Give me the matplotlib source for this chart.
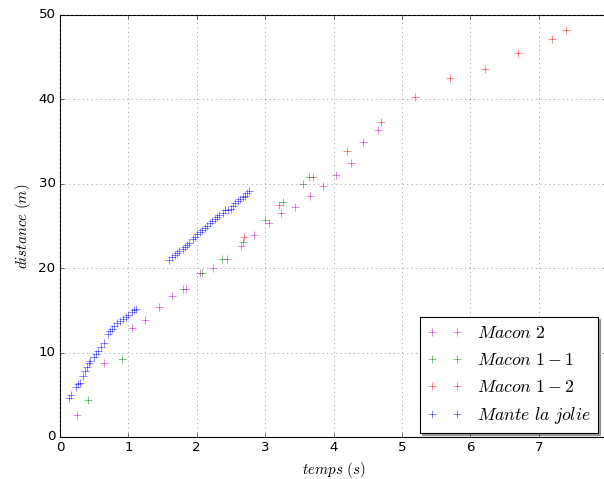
import numpy as np
import matplotlib
matplotlib.use('Agg')
import matplotlib.pyplot as plt

plt.style.use('classic')
plt.rcParams['mathtext.fontset'] = 'cm'

# Macon 2
t_m2 = [0.25, 0.64, 1.05, 1.24, 1.45, 1.64, 1.84, 2.05, 2.24, 2.44, 2.65,
        2.84, 3.06, 3.23, 3.44, 3.65, 3.85, 4.04, 4.25, 4.43, 4.65]
d_m2 = [2.61, 8.77, 12.91, 13.86, 15.40, 16.71, 17.54, 19.43, 20.02, 21.09, 22.63,
        23.93, 25.36, 26.54, 27.25, 28.55, 29.74, 31.04, 32.46, 34.95, 36.37]

# Macon 1-1
t_m11 = [0.41, 0.91, 1.80, 2.08, 2.37, 2.68, 3.00, 3.26, 3.55, 3.64]
d_m11 = [4.38, 9.24, 17.54, 19.43, 21.09, 23.10, 25.71, 27.84, 29.98, 30.81]

# Macon 1-2
t_m12 = [2.69, 3.20, 3.70, 4.20, 4.69, 5.19, 5.70, 6.21, 6.70, 7.19, 7.40]
d_m12 = [23.70, 27.49, 30.81, 33.89, 37.32, 40.28, 42.54, 43.60, 45.50, 47.16, 48.22]

# Mante la jolie
t_mj = [0.13, 0.16, 0.23, 0.26, 0.29, 0.34, 0.37, 0.39, 0.42, 0.44, 0.50, 0.53,
        0.56, 0.60, 0.64, 0.70, 0.73, 0.76, 0.79, 0.83, 0.88, 0.92, 0.96, 0.99,
        1.05, 1.08, 1.11,
        1.59, 1.64, 1.68, 1.71, 1.74, 1.80, 1.83, 1.86, 1.89, 1.94, 1.97, 2.00,
        2.05, 2.08, 2.12, 2.15, 2.19, 2.22, 2.27, 2.30, 2.32, 2.38, 2.41, 2.46,
        2.50, 2.53, 2.56, 2.60, 2.63, 2.68, 2.70, 2.73, 2.76]
d_mj = [4.62, 4.98, 5.92, 6.28, 6.40, 7.23, 7.82, 8.29, 8.77, 9.00, 9.48, 9.83,
        10.19, 10.66, 11.14, 12.20, 12.56, 12.80, 13.15, 13.51, 13.74, 13.98, 14.22, 14.45,
        14.81, 15.05, 15.17,
        20.97, 21.33, 21.56, 21.80, 22.04, 22.27, 22.51, 22.75, 22.99, 23.46, 23.70, 24.05,
        24.29, 24.53, 24.76, 25.00, 25.36, 25.59, 25.83, 26.07, 26.30, 26.54, 26.90, 26.90,
        27.01, 27.37, 27.73, 27.96, 28.20, 28.44, 28.55, 28.91, 29.15]

fig = plt.figure(figsize=(604 / 80, 479 / 80), dpi=80)
ax = fig.add_axes([60 / 604, 42 / 479, 547 / 604, 422 / 479])

ax.plot(t_m2, d_m2, '+', color='m', alpha=0.8, ms=7, label=r'$Macon\ 2$')
ax.plot(t_m11, d_m11, '+', color='g', alpha=0.8, ms=7, label=r'$Macon\ 1-1$')
ax.plot(t_m12, d_m12, '+', color='r', alpha=0.8, ms=7, label=r'$Macon\ 1-2$')
ax.plot(t_mj, d_mj, '+', color='b', alpha=0.8, ms=7, label=r'$Mante\ la\ jolie$')

ax.set_xlim(0, 8)
ax.set_ylim(0, 50)
ax.grid(True, color='0.4')
ax.set_xlabel(r'$temps\ (s)$', fontsize=13.5)
ax.set_ylabel(r'$distance\ (m)$', fontsize=13.5)

ax.legend(loc='lower right', shadow=True, fancybox=False, numpoints=2,
          prop={'size': 16},
          bbox_to_anchor=(598 / 604, 46 / 479), bbox_transform=fig.transFigure,
          borderaxespad=0)

fig.savefig('out.png', dpi=80)
